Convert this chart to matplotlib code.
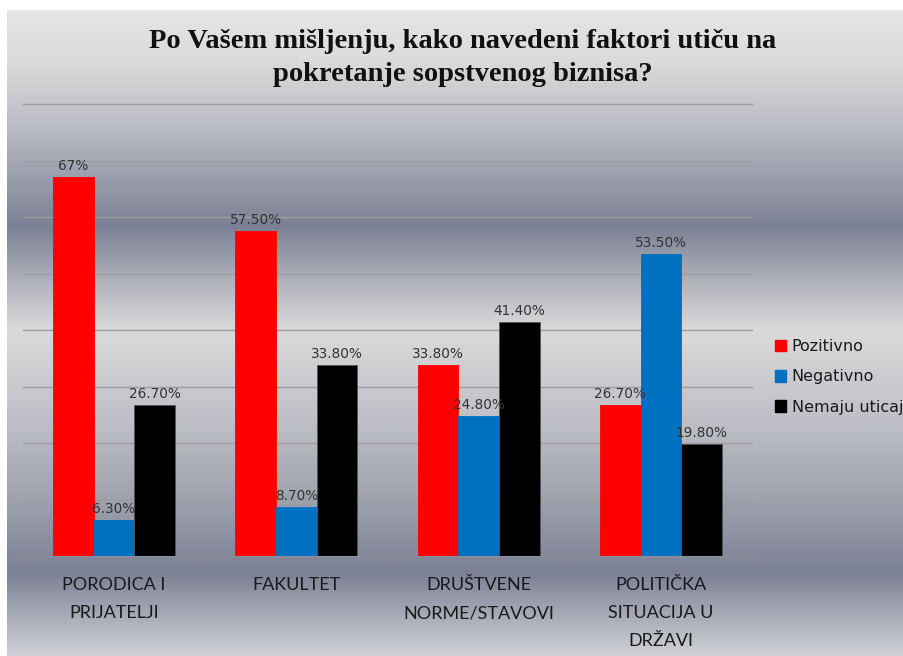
import numpy as np
import matplotlib.pyplot as plt
from matplotlib.colors import LinearSegmentedColormap
from matplotlib.patches import Patch

# data
categories = ["PORODICA I\nPRIJATELJI", "FAKULTET", "DRUŠTVENE\nNORME/STAVOVI",
              "POLITIČKA\nSITUACIJA U\nDRŽAVI"]
series_names = ["Pozitivno", "Negativno", "Nemaju uticaj"]
pozitivno = [67.0, 57.5, 33.8, 26.7]
negativno = [6.3, 8.7, 24.8, 53.5]
nemaju = [26.7, 33.8, 41.4, 19.8]
labels_poz = ["67%", "57.50%", "33.80%", "26.70%"]
labels_neg = ["6.30%", "8.70%", "24.80%", "53.50%"]
labels_nem = ["26.70%", "33.80%", "41.40%", "19.80%"]
colors = ["#ff0000", "#0070c0", "#000000"]

W, H = 904, 656
fig = plt.figure(figsize=(W / 100, H / 100), dpi=100, facecolor="white")

# silver gradient background
bg = fig.add_axes([7 / W, 0, (W - 7) / W, (H - 10) / H])
stops = [(10, "#e5e5e5"), (60, "#dbdbdb"), (130, "#b8bac2"), (226, "#7b8094"),
         (285, "#b4b6be"), (330, "#dadada"), (420, "#bfc0c7"), (500, "#9fa2ad"),
         (573, "#7b8094"), (656, "#d0d1d6")]
pos = [(s - 10) / (656 - 10) for s, _ in stops]
cmap = LinearSegmentedColormap.from_list("silver", list(zip(pos, [c for _, c in stops])))
grad = np.linspace(0, 1, 512).reshape(-1, 1)
bg.imshow(grad, aspect="auto", cmap=cmap, extent=[0, 1, 1, 0])
bg.set_xlim(0, 1)
bg.set_ylim(1, 0)
bg.axis("off")

# main axes
ax = fig.add_axes([23 / W, 100 / H, (752 - 23) / W, (556 - 104) / H])
ax.patch.set_alpha(0)
ax.set_xlim(-0.5, 3.5)
ax.set_ylim(0, 80)
for g in range(10, 81, 10):
    ax.axhline(g, color="#9c9ca2", lw=1.0, zorder=0, clip_on=False)

x = np.arange(len(categories))
bw = 0.223
for k, (vals, labs) in enumerate([(pozitivno, labels_poz), (negativno, labels_neg),
                                  (nemaju, labels_nem)]):
    xs = x + (k - 1) * bw
    ax.bar(xs, vals, width=bw, color=colors[k], edgecolor="#555555" if k == 2 else colors[k],
           linewidth=0.6, zorder=2)
    for xi, v, t in zip(xs, vals, labs):
        ax.annotate(t, (xi, v), xytext=(0, 3), textcoords="offset points",
                    ha="center", va="bottom", fontsize=9.8, color="#333333",
                    family="DejaVu Sans", zorder=3)

for s in ["top", "right", "left"]:
    ax.spines[s].set_visible(False)
ax.spines["bottom"].set_color("#8e8e96")
ax.set_yticks([])
ax.set_xticks(np.arange(-0.5, 4, 1))
ax.set_xticklabels([])
ax.tick_params(axis="x", length=5, color="#8e8e96")
for xi, c in zip(x, categories):
    ax.text(xi, -3.8, c, ha="center", va="top", fontsize=13, family="Lato",
            color="#1a1a1a", linespacing=1.9)

fig.text(463 / W, 1 - 58 / H, "Po Vašem mišljenju, kako navedeni faktori utiču na\npokretanje sopstvenog biznisa?",
         ha="center", va="center", fontsize=20.5, fontweight="bold",
         family="Liberation Serif", color="#111111", linespacing=1.38)

handles = [Patch(facecolor=c, edgecolor=c) for c in colors]
fig.legend(handles, series_names, loc="center left", bbox_to_anchor=(775 / W, 1 - 377 / H),
           frameon=False, handlelength=0.7, handleheight=0.7,
           handletextpad=0.35, labelspacing=0.95, borderpad=0, borderaxespad=0,
           prop={"family": "DejaVu Sans", "size": 11.5}, labelcolor="#1a1a1a")

fig.savefig("out.png", dpi=100, facecolor="white")
